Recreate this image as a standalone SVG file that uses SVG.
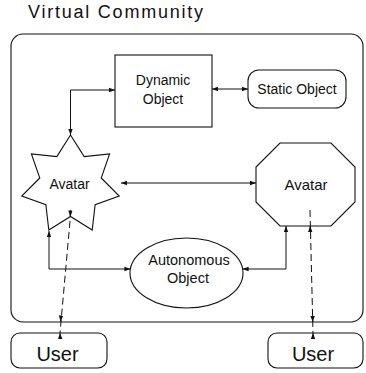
<svg xmlns="http://www.w3.org/2000/svg" width="366" height="373" viewBox="0 0 366 373">
<style>
.s{fill:none;stroke:#111;stroke-width:1.1}
.n{fill:#fff;stroke:#111;stroke-width:1.1}
.c{fill:none;stroke:#111;stroke-width:1}
.d{fill:none;stroke:#111;stroke-width:1;stroke-dasharray:7,4}
text{font-family:"Liberation Sans",Arial,sans-serif;fill:#111;text-anchor:middle}
.t{font-size:14px}
.u{font-size:20px}
</style>
<defs>
<marker id="a" viewBox="0 0 6 6" refX="6" refY="3" markerWidth="6" markerHeight="6" orient="auto-start-reverse" markerUnits="userSpaceOnUse">
<path d="M0,0.8 L6,3 L0,5.2z" fill="#111"/>
</marker>
</defs>
<rect width="366" height="373" fill="#fff"/>
<text x="28" y="18" style="text-anchor:start;font-size:18px" textLength="175" lengthAdjust="spacing">Virtual Community</text>
<g id="community">
<rect class="s" x="11" y="34" width="352" height="288" rx="12"/>
</g>
<g id="dynamic">
<rect class="n" x="115" y="55" width="97" height="72"/>
<text class="t" x="163" y="85">Dynamic</text>
<text class="t" x="163" y="103.5">Object</text>
</g>
<g id="static">
<rect class="n" x="248" y="70" width="98" height="38" rx="11"/>
<text class="t" x="297" y="94">Static Object</text>
</g>
<g id="avatar1">
<polygon class="n" points="70.5,135 84.17,156.62 109.59,153.83 101.21,177.99 119.25,196.13 95.13,204.64 92.19,230.05 70.5,216.5 48.81,230.05 45.87,204.64 21.75,196.13 39.79,177.99 31.41,153.83 56.83,156.62"/>
<text class="t" x="69.5" y="188.5">Avatar</text>
</g>
<g id="avatar2">
<polygon class="n" points="280,143 331,143 355,167 355,202 331,226 280,226 256,202 256,167"/>
<text x="306" y="190" style="font-size:15px">Avatar</text>
</g>
<g id="autonomous">
<ellipse class="n" cx="186.5" cy="273" rx="56.5" ry="35"/>
<text x="189" y="264.5" style="font-size:14.5px">Autonomous</text>
<text x="188" y="282.5" style="font-size:14.5px">Object</text>
</g>
<g id="user1">
<rect class="n" x="11" y="333" width="96" height="35" rx="9"/>
<text class="u" x="57.5" y="360.5">User</text>
</g>
<g id="user2">
<rect class="n" x="268" y="333" width="95" height="35" rx="9"/>
<text class="u" x="313" y="360.5">User</text>
</g>
<g id="connectors">
<path class="c" d="M212,89 L248,89" marker-start="url(#a)" marker-end="url(#a)"/>
<path class="c" d="M115,90 L70.5,90 L70.5,135" marker-start="url(#a)" marker-end="url(#a)"/>
<path class="c" d="M121,183 L256,183" marker-start="url(#a)" marker-end="url(#a)"/>
<path class="c" d="M49,231 L49,269 L130.4,269" marker-start="url(#a)" marker-end="url(#a)"/>
<path class="c" d="M286,226 L286,269 L242.6,269" marker-start="url(#a)" marker-end="url(#a)"/>
<path class="d" d="M71,210 L60,333"/>
<path class="d" d="M310,210 L313,333"/>
<path class="c" d="M70.4,212 L70.2,216.5" marker-end="url(#a)"/>
<path class="c" d="M61,316 L60.5,321.5" marker-end="url(#a)"/>
<path class="c" d="M60.2,338 L60,333" marker-end="url(#a)"/>
<path class="c" d="M310.2,231 L310.2,226" marker-end="url(#a)"/>
<path class="c" d="M312.6,316 L312.7,322" marker-end="url(#a)"/>
<path class="c" d="M313,338 L313,333" marker-end="url(#a)"/>
</g>
</svg>
